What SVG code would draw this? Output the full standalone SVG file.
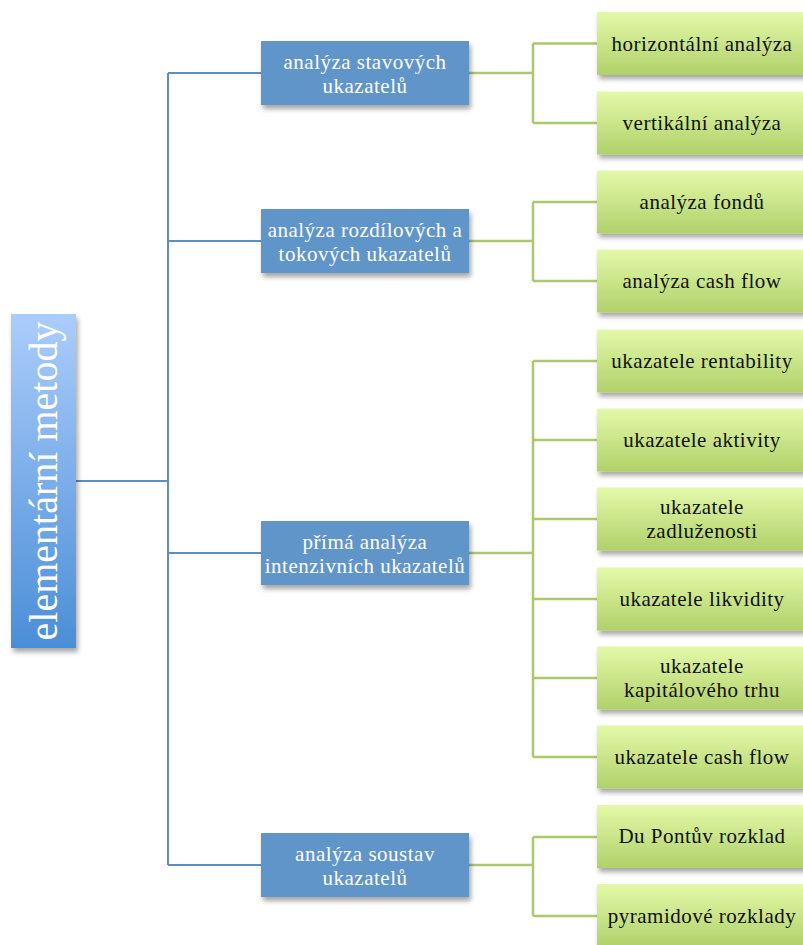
<svg xmlns="http://www.w3.org/2000/svg" width="803" height="945" viewBox="0 0 803 945">
<defs>
<linearGradient id="gRoot" x1="0" y1="0" x2="0" y2="1"><stop offset="0" stop-color="#abcdfb"/><stop offset="1" stop-color="#4b8ed7"/></linearGradient>
<linearGradient id="gLeaf" x1="0" y1="0" x2="0" y2="1"><stop offset="0" stop-color="#e4f9a9"/><stop offset="1" stop-color="#b0d16a"/></linearGradient>
<filter id="sh" x="-10%" y="-10%" width="130%" height="130%"><feDropShadow dx="2" dy="4" stdDeviation="2.5" flood-color="#000" flood-opacity="0.35"/></filter>
<style>
.root{fill:url(#gRoot);filter:url(#sh)}
.mid{fill:#5f95c9;filter:url(#sh)}
.leaf{fill:url(#gLeaf);filter:url(#sh)}
.bl{stroke:#5b8ec9;stroke-width:2;fill:none}
.gl{stroke:#a9c96b;stroke-width:2.5;fill:none}
text{font-family:"Liberation Serif","Times New Roman",serif;text-anchor:middle}
.wt{fill:#fff;font-size:21px;letter-spacing:0.5px}
.kt{fill:#111;font-size:21px;letter-spacing:0.5px}
.rt{fill:#fff;font-size:40px}
</style>
</defs>
<g id="connectors">
<path class="bl" d="M76 481H168M168 73V865M168 73H261M168 241H261M168 553H261M168 865H261"/>
<path class="gl" d="M469 73H533M533 43.5V123M533 43.5H597M533 123H597"/>
<path class="gl" d="M469 241H533M533 202V281M533 202H597M533 281H597"/>
<path class="gl" d="M469 553H533M533 361V757M533 361H597M533 440H597M533 519H597M533 599H597M533 678H597M533 757H597"/>
<path class="gl" d="M469 865H533M533 837V916M533 837H597M533 916H597"/>
</g>
<g id="root"><rect class="root" x="11" y="314" width="65" height="334"/><text class="rt" transform="translate(57 481) rotate(-90)">elementární metody</text></g>
<g id="m1"><rect class="mid" x="261" y="41" width="208" height="64"/><text class="wt" x="365" y="69">analýza stavových</text><text class="wt" x="365" y="92.5">ukazatelů</text></g>
<g id="m2"><rect class="mid" x="261" y="209" width="208" height="64"/><text class="wt" x="365" y="237">analýza rozdílových a</text><text class="wt" x="365" y="260.5">tokových ukazatelů</text></g>
<g id="m3"><rect class="mid" x="261" y="521" width="208" height="64"/><text class="wt" x="365" y="549">přímá analýza</text><text class="wt" x="365" y="572.5">intenzivních ukazatelů</text></g>
<g id="m4"><rect class="mid" x="261" y="833" width="208" height="64"/><text class="wt" x="365" y="861">analýza soustav</text><text class="wt" x="365" y="884.5">ukazatelů</text></g>
<g id="l1"><rect class="leaf" x="597" y="12" width="209" height="63"/><text class="kt" x="702" y="51">horizontální analýza</text></g>
<g id="l2"><rect class="leaf" x="597" y="91.5" width="209" height="63"/><text class="kt" x="702" y="130">vertikální analýza</text></g>
<g id="l3"><rect class="leaf" x="597" y="170.5" width="209" height="63"/><text class="kt" x="702" y="209">analýza fondů</text></g>
<g id="l4"><rect class="leaf" x="597" y="249.5" width="209" height="63"/><text class="kt" x="702" y="288">analýza cash flow</text></g>
<g id="l5"><rect class="leaf" x="597" y="329.5" width="209" height="63"/><text class="kt" x="702" y="368">ukazatele rentability</text></g>
<g id="l6"><rect class="leaf" x="597" y="408.5" width="209" height="63"/><text class="kt" x="702" y="447">ukazatele aktivity</text></g>
<g id="l7"><rect class="leaf" x="597" y="487.5" width="209" height="63"/><text class="kt" x="702" y="514">ukazatele</text><text class="kt" x="702" y="537.5">zadluženosti</text></g>
<g id="l8"><rect class="leaf" x="597" y="567.5" width="209" height="63"/><text class="kt" x="702" y="606">ukazatele likvidity</text></g>
<g id="l9"><rect class="leaf" x="597" y="646.5" width="209" height="63"/><text class="kt" x="702" y="673">ukazatele</text><text class="kt" x="702" y="696.5">kapitálového trhu</text></g>
<g id="l10"><rect class="leaf" x="597" y="725.5" width="209" height="63"/><text class="kt" x="702" y="764">ukazatele cash flow</text></g>
<g id="l11"><rect class="leaf" x="597" y="805" width="209" height="63"/><text class="kt" x="702" y="843">Du Pontův rozklad</text></g>
<g id="l12"><rect class="leaf" x="597" y="884" width="209" height="63"/><text class="kt" x="702" y="923">pyramidové rozklady</text></g>
</svg>
